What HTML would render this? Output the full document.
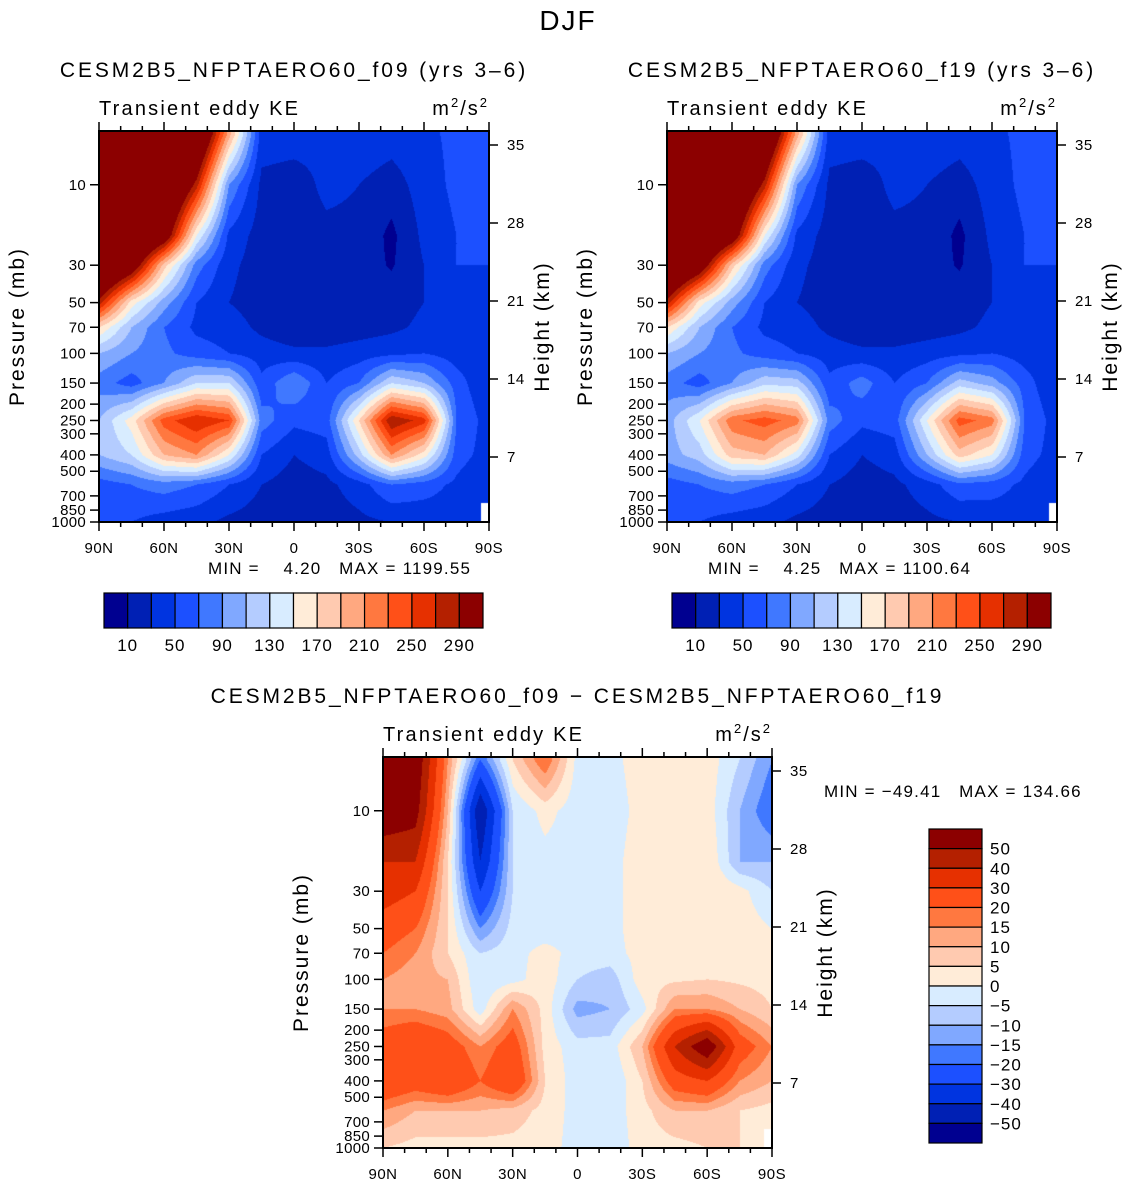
<!DOCTYPE html>
<html><head><meta charset="utf-8">
<style>
body{margin:0;background:#fff;width:1137px;height:1185px;overflow:hidden;font-family:"Liberation Sans",sans-serif;}
#root{position:relative;width:1137px;height:1185px;}
canvas{position:absolute;}
svg{position:absolute;left:0;top:0;}
</style></head>
<body><div id="root">
<svg id="s" width="1137" height="1185"></svg>
</div>
<script>
const lats=[90,75,60,45,30,15,0,-15,-30,-45,-60,-75,-90];
const pres=[5,10,20,30,50,70,100,150,250,400,600,1000];
const f09=[
[400,400,400,380,200,40,40,35,45,40,45,55,55],
[400,400,400,280,90,25,20,35,30,20,40,55,55],
[400,400,330,150,45,20,20,25,25,5,35,50,55],
[400,330,180,80,35,20,20,20,20,8,30,50,50],
[280,160,100,50,30,20,15,20,20,20,30,45,40],
[170,110,70,45,40,25,15,15,20,25,35,40,35],
[110,90,75,60,50,40,35,35,40,45,50,40,35],
[80,60,90,130,130,55,90,50,70,130,110,60,30],
[110,160,240,270,250,80,55,60,170,290,260,70,40],
[110,130,190,210,150,50,30,40,120,210,160,60,40],
[60,70,80,70,50,30,20,25,40,70,60,45,30],
[50,50,40,35,25,20,12,20,25,30,35,40,null]];
const f19=[
[400,400,400,380,200,40,40,35,45,40,45,55,55],
[400,400,400,280,90,25,20,35,30,20,40,55,55],
[400,400,330,150,45,20,20,25,25,5,35,50,55],
[400,330,180,80,35,20,20,20,20,8,30,50,50],
[280,160,100,50,30,20,15,20,20,20,30,45,40],
[170,110,70,45,40,25,15,15,20,25,35,40,35],
[110,90,75,60,50,40,35,35,40,45,50,40,35],
[80,60,90,125,120,55,80,50,70,120,100,60,30],
[100,150,225,240,220,80,55,60,150,240,220,70,40],
[100,120,180,190,140,50,30,40,110,180,150,60,40],
[60,70,80,70,50,30,20,25,40,65,60,45,30],
[50,50,40,35,25,20,12,20,25,30,35,40,null]];
const diff=[
[60,60,15,-20,5,20,-2,-2,3,3,3,-5,-15],
[60,55,10,-50,-5,2,-3,-3,2,2,3,-10,-20],
[40,40,5,-40,-5,-2,-3,-2,3,3,5,-10,-10],
[35,30,5,-30,-5,-3,-2,-2,3,3,5,2,-5],
[25,20,5,-15,-3,-3,-2,-2,3,3,4,3,0],
[20,15,5,-5,-2,2,-2,-2,2,3,3,3,2],
[15,12,10,-5,-2,3,-5,-8,3,4,5,4,3],
[15,15,12,-3,15,3,-12,-10,-2,15,15,10,5],
[25,30,25,15,25,3,-3,-3,10,40,60,25,15],
[30,25,30,20,30,5,-3,-5,5,25,30,15,10],
[15,10,10,10,8,3,-2,-3,3,10,10,5,3],
[5,3,3,3,3,2,-2,-3,2,3,5,5,null]];
const levA=[10,30,50,70,90,110,130,150,170,190,210,230,250,270,290];
const levD=[-50,-40,-30,-20,-15,-10,-5,0,5,10,15,20,30,40,50];
const labA=["10","50","90","130","170","210","250","290"];
const labD=["50","40","30","20","15","10","5","0","\u22125","\u221210","\u221215","\u221220","\u221230","\u221240","\u221250"];
const presTicks=[10,30,50,70,100,150,200,250,300,400,500,700,850,1000];
const hTicks=[35,28,21,14,7];
const latTicks=["90N","60N","30N","0","30S","60S","90S"];
const cols=["#000090","#0020b4","#0034e0","#1c50ff","#4078ff","#80a8ff","#b4ccff","#d8ecff","#ffecd8","#ffcab0","#ffa880","#ff7840","#ff5018","#e63000","#b42000","#8c0000"];
const NS="http://www.w3.org/2000/svg";
const svg=document.getElementById('s');
function el(t,a,txt){const e=document.createElementNS(NS,t);for(const k in a)e.setAttribute(k,a[k]);if(txt!==undefined)e.textContent=txt;svg.appendChild(e);return e;}
function txt(x,y,s,size,anchor,name,ls){const e=el('text',{x:x,y:y,'font-size':size,'text-anchor':anchor||'middle',fill:'#000','letter-spacing':ls||0},s);e.style.whiteSpace='pre';return e;}
const PTOP=4.8;
function colorIdx(v,lev){let i=0;while(i<lev.length&&v>=lev[i])i++;return i;}
function hex(c){return [parseInt(c.substr(1,2),16),parseInt(c.substr(3,2),16),parseInt(c.substr(5,2),16)];}
function sample(data,lat,p){
  let li=(90-lat)/15;li=Math.max(0,Math.min(12,li));
  const l0=Math.min(11,Math.floor(li)),lf=li-l0;
  const lp=Math.log(p);let r=0;
  while(r<pres.length-2&&lp>Math.log(pres[r+1]))r++;
  let pf=(lp-Math.log(pres[r]))/(Math.log(pres[r+1])-Math.log(pres[r]));pf=Math.max(0,Math.min(1,pf));
  const a=data[r][l0],b=data[r][l0+1],c=data[r+1][l0],d=data[r+1][l0+1];
  if(a===null||b===null||c===null||d===null){
    if(lf>0.75&&pf>0.5)return null;
    const vals=[a,b,c,d].filter(v=>v!==null);return vals.reduce((s,v)=>s+v,0)/vals.length;
  }
  return (a*(1-lf)+b*lf)*(1-pf)+(c*(1-lf)+d*lf)*pf;
}
function panel(x0,y0,w,h,data,lev,title,name){
  const yP=p=>y0+h*(Math.log(p/PTOP)/Math.log(1000/PTOP));
  const xL=lat=>x0+w*(90-lat)/180;
  const cv=document.createElement('canvas');cv.width=w;cv.height=h;
  cv.style.left=x0+'px';cv.style.top=y0+'px';
  
  
  document.getElementById('root').insertBefore(cv,svg);
  const ctx=cv.getContext('2d');const im=ctx.createImageData(w,h);
  const rgb=cols.map(hex);
  for(let j=0;j<h;j++){const p=PTOP*Math.pow(1000/PTOP,(j+0.5)/h);
    for(let i=0;i<w;i++){const lat=90-180*(i+0.5)/w;const v=sample(data,lat,p);
      const k=(j*w+i)*4;let c=[255,255,255];if(v!==null)c=rgb[colorIdx(v,lev)];
      im.data[k]=c[0];im.data[k+1]=c[1];im.data[k+2]=c[2];im.data[k+3]=255;}}
  ctx.putImageData(im,0,0);
  const fr=el('rect',{x:x0,y:y0,width:w,height:h,fill:'none',stroke:'#000','stroke-width':2});
  
  for(let l=90;l>=-90;l-=10){const x=xL(l);const mj=(l%30===0);const L=mj?9:5;
    el('line',{x1:x,y1:y0+h,x2:x,y2:y0+h+L,stroke:'#000','stroke-width':1.5});
    el('line',{x1:x,y1:y0,x2:x,y2:y0-L,stroke:'#000','stroke-width':1.5});}
  latTicks.forEach((s,i)=>txt(xL(90-30*i),y0+h+31,s,15,'middle',name+'-lat-label',0.5));
  presTicks.forEach(p=>{const y=yP(p);el('line',{x1:x0-9,y1:y,x2:x0,y2:y,stroke:'#000','stroke-width':1.5});
    txt(x0-13,y+5,String(p),15,'end',name+'-pressure-label',0.3);});
  hTicks.forEach((hk,i)=>{const y=y0+14+(326-14)*i/4;el('line',{x1:x0+w,y1:y,x2:x0+w+9,y2:y,stroke:'#000','stroke-width':1.5});
    txt(x0+w+18,y+5,String(hk),15,'start',name+'-height-label',0.5);});
  const pt=txt(0,0,'Pressure (mb)',21,'middle',name+'-y-axis-title',2);pt.setAttribute('transform',`translate(${x0-75},${y0+h/2}) rotate(-90)`);
  const ht=txt(0,0,'Height (km)',21,'middle',name+'-height-axis-title',2);ht.setAttribute('transform',`translate(${x0+w+60},${y0+h/2}) rotate(-90)`);
  txt(x0,y0-16,'Transient eddy KE',20,'start',name+'-variable-label',2.2);
  const u=el('text',{x:x0+w,y:y0-16,'font-size':20,'text-anchor':'end','letter-spacing':2});
  
  u.innerHTML='m<tspan dy="-8" font-size="13">2</tspan><tspan dy="8">/s</tspan><tspan dy="-8" font-size="13">2</tspan>';
  txt(x0+w/2,y0-54,title,21,'middle',name+'-title',2.9);
}
txt(568,30,'DJF',28,'middle','figure-title',2);
panel(99,131,390,391,f09,levA,'CESM2B5_NFPTAERO60_f09 (yrs 3\u20136)','panel-f09');
panel(667,131,390,391,f19,levA,'CESM2B5_NFPTAERO60_f19 (yrs 3\u20136)','panel-f19');
panel(383,757,389,391,diff,levD,'CESM2B5_NFPTAERO60_f09 \u2212 CESM2B5_NFPTAERO60_f19','panel-diff');
txt(208,574,'MIN =    4.20   MAX = 1199.55',17,'start','f09-min-max',1.2);
txt(708,574,'MIN =    4.25   MAX = 1100.64',17,'start','f19-min-max',1.2);
txt(824,797,'MIN = \u221249.41   MAX = 134.66',17,'start','diff-min-max',1.2);
function hbar(x0,y0,w,h,name){const bw=w/16;
  for(let i=0;i<16;i++){const r=el('rect',{x:x0+i*bw,y:y0,width:bw,height:h,fill:cols[i],stroke:'#000','stroke-width':1.2});
    }
  labA.forEach((s,i)=>txt(x0+bw*(2*i+1),y0+h+23,s,17,'middle',name+'-label',1));}
hbar(104,593,379,35,'f09-colorbar');
hbar(672,593,379,35,'f19-colorbar');
(function(){const x0=929,y0=829,w=53,h=314,bh=h/16;
  for(let i=0;i<16;i++){const r=el('rect',{x:x0,y:y0+i*bh,width:w,height:bh,fill:cols[15-i],stroke:'#000','stroke-width':1.2});
    }
  labD.forEach((s,i)=>txt(x0+w+8,y0+bh*(i+1)+6,s,17,'start','diff-colorbar-label',1));})();
</script>
</body></html>
